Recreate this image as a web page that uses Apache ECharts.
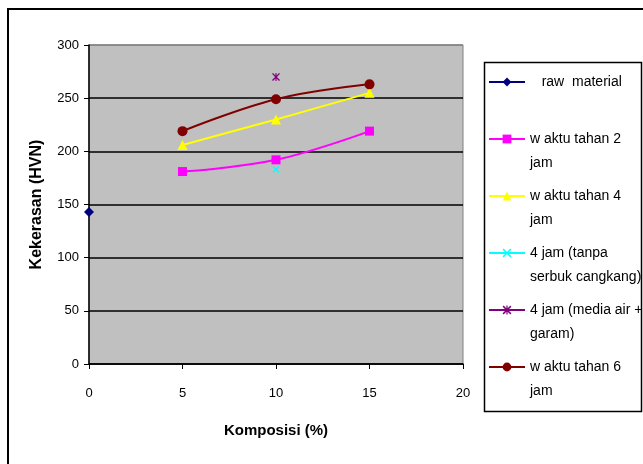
<!DOCTYPE html>
<html>
<head>
<meta charset="utf-8">
<script src="https://cdn.jsdelivr.net/npm/echarts@6/dist/echarts.min.js"></script>
<style>
html,body{margin:0;padding:0;background:#fff;}
#c{width:643px;height:464px;}
</style>
</head>
<body>
<div id="c"></div>
<script>
// ---- data ----
const xTicks = [0, 5, 10, 15, 20];
const yTicks = [0, 50, 100, 150, 200, 250, 300];
const composisi = [5, 10, 15];
const rawX = [0];
const rawY = [143];
const jam2 = [181, 192, 219];
const jam4 = [206, 230, 255];
const jam6 = [219, 249, 263];
const tanpaX = [10];
const tanpaY = [183];
const mediaX = [10];
const mediaY = [270];
const seriesNames = [
  '   raw  material',
  'w aktu tahan 2\njam',
  'w aktu tahan 4\njam',
  '4 jam (tanpa\nserbuk cangkang)',
  '4 jam (media air +\ngaram)',
  'w aktu tahan 6\njam'
];

const FONT = '"Liberation Sans", Arial, sans-serif';
const pairs = (xs, ys) => xs.map((x, i) => [x, ys[i]]);
const xPath = 'path://M0,1.2 L1.2,0 L5,3.8 L8.8,0 L10,1.2 L6.2,5 L10,8.8 L8.8,10 L5,6.2 L1.2,10 L0,8.8 L3.8,5 Z';
const starPath = 'path://M0,1.2 L1.2,0 L4.3,3.1 L4.3,0 L5.7,0 L5.7,3.1 L8.8,0 L10,1.2 L6.2,5 L10,8.8 L8.8,10 L5.7,6.9 L5.7,10 L4.3,10 L4.3,6.9 L1.2,10 L0,8.8 L3.8,5 Z';

function mk(name, data, color, symbol, size, smooth) {
  return {
    name: name,
    type: 'line',
    data: data,
    smooth: smooth,
    symbol: symbol,
    symbolSize: size,
    showSymbol: true,
    lineStyle: { color: color, width: 2 },
    itemStyle: { color: color },
    emphasis: { disabled: true },
    animation: false
  };
}

const chart = echarts.init(document.getElementById('c'), null, { renderer: 'canvas' });
chart.setOption({
  backgroundColor: '#ffffff',
  animation: false,
  textStyle: { fontFamily: FONT },
  grid: {
    left: 89, top: 45, width: 374, height: 319,
    show: true, backgroundColor: '#C0C0C0',
    borderColor: '#808080', borderWidth: 1
  },
  xAxis: {
    type: 'value', min: xTicks[0], max: xTicks[xTicks.length - 1], interval: 5,
    name: 'Komposisi (%)', nameLocation: 'middle', nameGap: 59,
    nameTextStyle: { fontFamily: FONT, fontSize: 15, fontWeight: 'bold', color: '#000' },
    axisLine: { show: true, onZero: false, lineStyle: { color: '#000', width: 1.5 } },
    axisTick: { show: true, length: 5, lineStyle: { color: '#000' } },
    axisLabel: { margin: 23, fontFamily: FONT, fontSize: 13, color: '#000' },
    splitLine: { show: false }
  },
  yAxis: {
    type: 'value', min: yTicks[0], max: yTicks[yTicks.length - 1], interval: 50,
    name: 'Kekerasan (HVN)', nameLocation: 'middle', nameGap: 44,
    nameTextStyle: { fontFamily: FONT, fontSize: 16, fontWeight: 'bold', color: '#000' },
    axisLine: { show: true, lineStyle: { color: '#000', width: 1.5 } },
    axisTick: { show: true, length: 5, lineStyle: { color: '#000' } },
    axisLabel: { margin: 10, fontFamily: FONT, fontSize: 13, color: '#000' },
    splitLine: { show: true, lineStyle: { color: ['#000','#000','#000','#000','#000','#000','#808080'], width: 1.5 } }
  },
  legend: {
    orient: 'vertical',
    left: 488, top: 46,
    padding: 0,
    itemWidth: 36, itemHeight: 11,
    itemGap: -15,
    formatter: function (n) { return '\n' + n + (n.indexOf('\n') < 0 ? '\n' : ''); },
    textStyle: { fontFamily: FONT, fontSize: 14, lineHeight: 24, color: '#000' },
    data: seriesNames
  },
  graphic: [
    { type: 'rect', silent: true, shape: { x: 8, y: 9, width: 700, height: 520 },
      style: { fill: 'none', stroke: '#000', lineWidth: 2 } },
    { type: 'rect', silent: true, shape: { x: 484.5, y: 62.5, width: 157, height: 349 },
      style: { fill: 'none', stroke: '#000', lineWidth: 1.5 } }
  ],
  series: [
    mk(seriesNames[0], pairs(rawX, rawY), '#000080', 'diamond', 10, false),
    mk(seriesNames[1], pairs(composisi, jam2), '#FF00FF', 'rect', 9, 0.4),
    mk(seriesNames[2], pairs(composisi, jam4), '#FFFF00', 'triangle', 10, 0.4),
    mk(seriesNames[3], pairs(tanpaX, tanpaY), '#00FFFF', xPath, 7, false),
    mk(seriesNames[4], pairs(mediaX, mediaY), '#800080', starPath, 8, false),
    mk(seriesNames[5], pairs(composisi, jam6), '#800000', 'circle', 10, 0.4)
  ]
});
</script>
</body>
</html>
